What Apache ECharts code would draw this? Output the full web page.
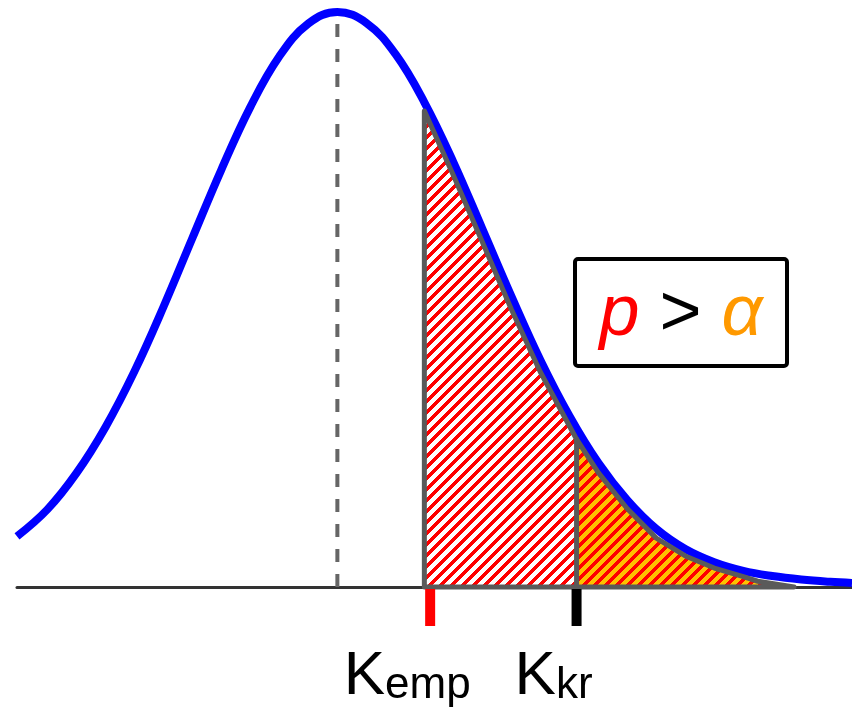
<!DOCTYPE html>
<html>
<head>
<meta charset="utf-8">
<script src="https://cdn.jsdelivr.net/npm/echarts@6/dist/echarts.min.js"></script>
<style>
  html, body { margin: 0; padding: 0; background: #fff; }
  #chart { width: 852px; height: 724px; }
</style>
</head>
<body>
<div id="chart"></div>
<script>
// Density curve (x in standard-deviation units, height relative to the peak)
const curveZ = [-2.21, -2.0, -1.8, -1.6, -1.4, -1.2, -1.0, -0.8, -0.6, -0.4, -0.2, 0,
                0.2, 0.4, 0.6, 0.8, 1.0, 1.2, 1.4, 1.6, 1.8, 2.0, 2.2, 2.4, 2.6, 2.8,
                3.0, 3.2, 3.4, 3.55];
const curveDensity = [0.088, 0.135, 0.198, 0.278, 0.375, 0.487, 0.607, 0.726, 0.835, 0.923, 0.980, 1.0,
                      0.981, 0.927, 0.843, 0.739, 0.623, 0.506, 0.395, 0.298, 0.216, 0.151, 0.101, 0.066, 0.043, 0.028,
                      0.019, 0.013, 0.009, 0.007];

// Outline of the tail area to the right of K_emp
const outlineZ = [0.60, 0.8, 1.0, 1.2, 1.4, 1.65, 1.8, 2.0, 2.2, 2.4, 2.6, 2.8, 2.9, 3.15];
const outlineDensity = [0.828, 0.716, 0.600, 0.483, 0.374, 0.257, 0.199, 0.136, 0.085, 0.054, 0.033, 0.018, 0.010, 0];

// Mean line
const meanZ = 0;
const peakDensity = 1.0;

// Critical values on the axis
const kEmp = 0.64;
const kKr = 1.65;
const tickZ = [kEmp, kKr];
const tickSubscripts = ['emp', 'kr'];
const tickColors = ['#ff0000', '#000000'];

// Hatched tile: red "/" stripes on a background colour
function hatchTile(bg, period, width) {
  const c = document.createElement('canvas');
  c.width = period; c.height = period;
  const ctx = c.getContext('2d');
  const img = ctx.createImageData(period, period);
  for (let y = 0; y < period; y++) {
    for (let x = 0; x < period; x++) {
      const i = (y * period + x) * 4;
      const red = ((x + y) % period) < width;
      const col = red ? [255, 0, 0] : bg;
      img.data[i] = col[0]; img.data[i + 1] = col[1]; img.data[i + 2] = col[2]; img.data[i + 3] = 255;
    }
  }
  ctx.putImageData(img, 0, 0);
  return c;
}
const whiteHatch = hatchTile([255, 255, 255], 11, 5);
const orangeHatch = hatchTile([255, 192, 0], 11, 5);

const curveData = curveZ.map((z, i) => [z, curveDensity[i]]);
const outlinePts = outlineZ.map((z, i) => [z, outlineDensity[i]]);
const fillA = outlinePts.filter(p => p[0] <= kKr);
const fillB = outlinePts.filter(p => p[0] >= kKr);
const outlineClosed = [[outlineZ[0], 0]].concat(outlinePts, [[outlineZ[0], 0]]);
const kKrTop = outlineDensity[outlineZ.indexOf(kKr)];

const chart = echarts.init(document.getElementById('chart'), null, { renderer: 'canvas' });

const option = {
  animation: false,
  backgroundColor: '#ffffff',
  grid: { left: 17, right: 0, top: 12, bottom: 137, containLabel: false },
  xAxis: {
    type: 'value', min: -2.21, max: 3.55,
    axisLine: { show: true, onZero: false, lineStyle: { color: '#333333', width: 3 } },
    axisTick: { show: false }, axisLabel: { show: false }, splitLine: { show: false }
  },
  yAxis: {
    type: 'value', min: 0, max: 1, show: false,
    splitLine: { show: false }
  },
  series: [
    {
      name: 'tail-emp', type: 'line', data: fillA, z: 2,
      showSymbol: false, symbol: 'none', silent: true, clip: false,
      lineStyle: { width: 0 },
      areaStyle: { color: { image: whiteHatch, repeat: 'repeat' }, opacity: 1 }
    },
    {
      name: 'tail-kr', type: 'line', data: fillB, z: 2,
      showSymbol: false, symbol: 'none', silent: true, clip: false,
      lineStyle: { width: 0 },
      areaStyle: { color: { image: orangeHatch, repeat: 'repeat' }, opacity: 1 }
    },
    {
      name: 'mean', type: 'line', data: [[meanZ, 0], [meanZ, peakDensity]], z: 1,
      showSymbol: false, symbol: 'none', silent: true, clip: false,
      lineStyle: { color: '#666666', width: 4, type: [13, 12] }
    },
    {
      name: 'density', type: 'line', data: curveData, z: 3,
      smooth: 0.4, showSymbol: false, symbol: 'none', silent: true, clip: false,
      lineStyle: { color: '#0000ff', width: 8 }
    },
    {
      name: 'outline', type: 'line', data: outlineClosed, z: 4,
      showSymbol: false, symbol: 'none', silent: true, clip: false,
      lineStyle: { color: '#5a5a5a', width: 5, join: 'round', cap: 'round' }
    },
    {
      name: 'divider', type: 'line', data: [[kKr, 0], [kKr, kKrTop]], z: 4,
      showSymbol: false, symbol: 'none', silent: true, clip: false,
      lineStyle: { color: '#5a5a5a', width: 5, cap: 'round' }
    },
    {
      name: 'critical', type: 'custom', z: 5, silent: true,
      data: tickZ.map((z, i) => [z, i]),
      renderItem: function (params, api) {
        const i = api.value(1);
        const p = api.coord([api.value(0), 0]);
        return {
          type: 'group',
          children: [
            {
              type: 'rect',
              shape: { x: p[0] - 5, y: p[1] + 2, width: 10, height: 37 },
              style: { fill: tickColors[i] }
            },
            {
              type: 'text',
              x: p[0] - 23, y: p[1] + 90,
              style: {
                text: '{k|K}{s|' + tickSubscripts[i] + '}',
                align: 'center', verticalAlign: 'middle',
                rich: {
                  k: { fontFamily: 'Liberation Sans', fontSize: 62, lineHeight: 62, verticalAlign: 'bottom', fill: '#000' },
                  s: { fontFamily: 'Liberation Sans', fontSize: 44, lineHeight: 28, verticalAlign: 'bottom', fill: '#000' }
                }
              }
            }
          ]
        };
      }
    }
  ],
  graphic: [
    {
      type: 'group', z: 10,
      children: [
        {
          type: 'rect',
          shape: { x: 575, y: 259, width: 212, height: 107, r: 3 },
          style: { fill: '#ffffff', stroke: '#000000', lineWidth: 4 }
        },
        {
          type: 'text',
          x: 681, y: 315,
          style: {
            text: '{p|p}{g| > }{a|α}',
            align: 'center', verticalAlign: 'middle',
            rich: {
              p: { fontFamily: 'Liberation Sans', fontSize: 72, fontStyle: 'italic', fill: '#ff0000' },
              g: { fontFamily: 'Liberation Sans', fontSize: 72, fill: '#000000' },
              a: { fontFamily: 'Liberation Sans', fontSize: 72, fontStyle: 'italic', fill: '#ff9900' }
            }
          }
        }
      ]
    }
  ]
};

chart.setOption(option);
</script>
</body>
</html>
